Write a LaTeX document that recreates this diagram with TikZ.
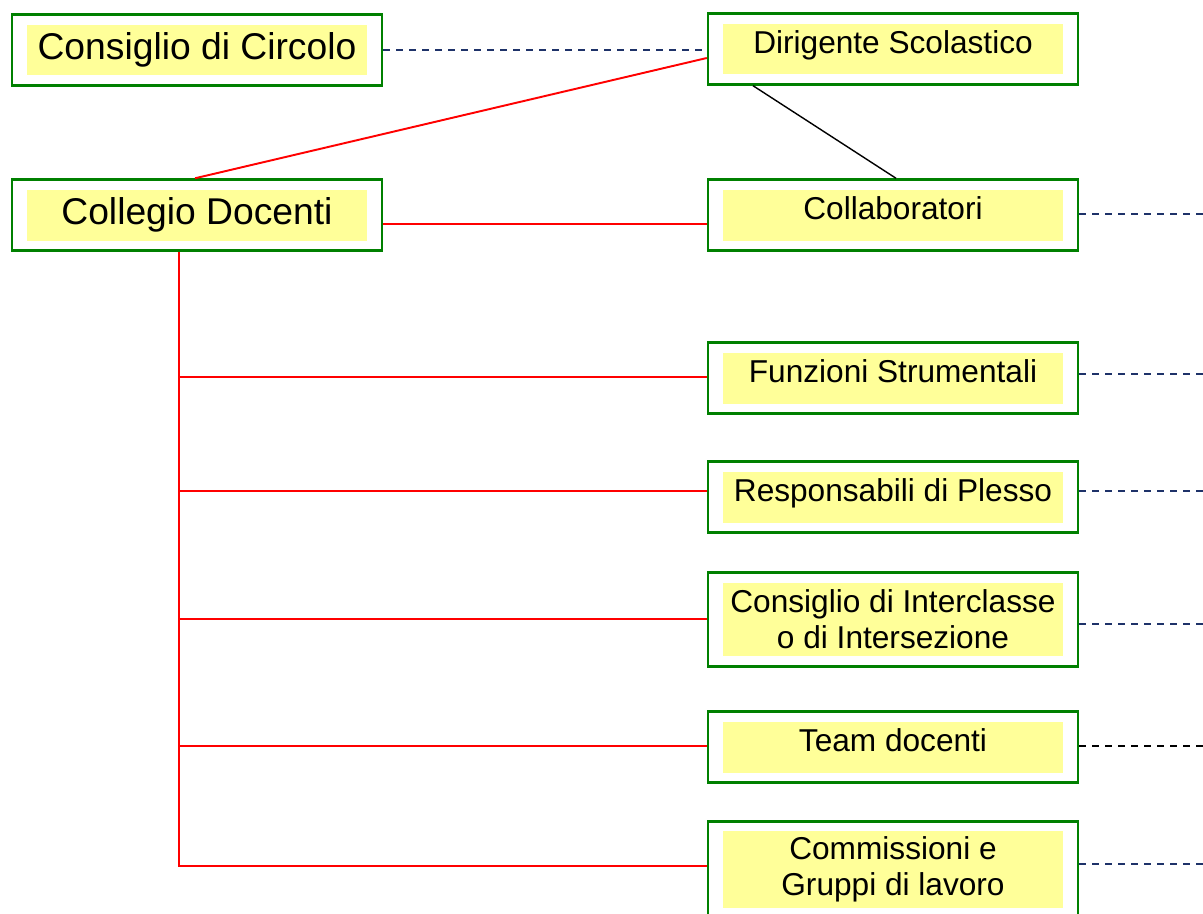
\documentclass[tikz,border=0pt]{standalone}
\usepackage{fontspec}
\setmainfont{Liberation Sans}
\usetikzlibrary{calc, positioning}

\definecolor{boxgreen}{RGB}{0,128,0}
\definecolor{paleyellow}{RGB}{255,255,153}
\definecolor{linkblue}{RGB}{30,50,105}

\tikzset{
	frame/.style={draw=boxgreen, line width=1.4pt, fill=white, minimum width=7.4cm, minimum height=1.42cm, inner sep=0pt},
	bigfill/.style={fill=paleyellow, minimum width=6.8cm, inner sep=0pt, text height=0.69cm, text depth=0.33cm, font=\fontsize{21.2}{24}\selectfont},
	smallfill/.style={fill=paleyellow, minimum width=6.8cm, inner sep=0pt, text height=0.6cm, text depth=0.42cm, font=\fontsize{18}{20.5}\selectfont},
	twofill/.style={fill=paleyellow, minimum width=6.8cm, inner sep=0pt, align=center, font=\fontsize{18}{20.5}\selectfont},
	redline/.style={red, line width=1.1pt},
	dashline/.style={linkblue, line width=1pt, dash pattern=on 4pt off 3.4pt}
}

\begin{document}
\begin{tikzpicture}[x=0.02cm, y=-0.02cm]
	\useasboundingbox (0,0) rectangle (1203,913);
	
	% left column
	\node[frame] (circolo) at (197,50) {};
	\node[bigfill] (circolo-t) at (circolo) {Consiglio di Circolo};
	\node[frame] (collegio) at (197,215) {};
	\node[bigfill] (collegio-t) at (collegio) {Collegio Docenti};
	
	% right column
	\node[frame] (dirigente) at (893,49) {};
	\node[smallfill] (dirigente-t) at (dirigente) {Dirigente Scolastico};
	\node[frame] (collab) at (893,215) {};
	\node[smallfill] (collab-t) at (collab) {Collaboratori};
	\node[frame] (funzioni) at (893,378) {};
	\node[smallfill] (funzioni-t) at (funzioni) {Funzioni Strumentali};
	\node[frame] (plesso) at (893,497) {};
	\node[smallfill] (plesso-t) at (plesso) {Responsabili di Plesso};
	\node[frame, minimum height=1.88cm] (interclasse) at (893,619.5) {};
	\node[twofill, minimum height=1.46cm] (interclasse-t) at (interclasse) {Consiglio di Interclasse\\o di Intersezione};
	\node[frame] (team) at (893,747) {};
	\node[smallfill] (team-t) at (team) {Team docenti};
	\node[frame, minimum height=1.92cm] (commissioni) at (893,869.5) {};
	\node[twofill, minimum height=1.54cm] (commissioni-t) at (commissioni) {Commissioni e\\Gruppi di lavoro};
	
	\coordinate (edge) at (1210,0);
	
	% links
	\draw[dashline] (circolo.east) -- (circolo.east -| dirigente.west);
	\draw[redline] ([yshift=-0.18cm]dirigente.west) -- ([xshift=-0.04cm]collegio.north);
	\draw[black, line width=0.8pt] ([xshift=-2.8cm]dirigente.south) -- ([xshift=0.06cm]collab.north);
	\draw[redline] ([yshift=-0.18cm]collegio.east) -- ([yshift=-0.18cm]collab.west);
	
	\coordinate (trunk) at ([xshift=-0.36cm]collegio.south);
	\coordinate (trunk-end) at ([yshift=0.07cm]commissioni.west);
	\draw[redline] (trunk) |- (trunk-end);
	\foreach \b/\dy in {funzioni/0.02, plesso/0.12, interclasse/0.01, team/0.02}
		\draw[redline] ([yshift=\dy cm]\b.west -| trunk) -- ([yshift=\dy cm]\b.west);
	
	\foreach \b/\dy/\c in {collab/0.02/linkblue, funzioni/0.08/linkblue, plesso/0.12/linkblue, interclasse/-0.09/linkblue, team/0.02/black, commissioni/0.11/linkblue}{
		\coordinate (\b-out) at ([yshift=\dy cm]\b.east);
		\draw[dashline, \c] (\b-out) -- (\b-out -| edge);
	}
\end{tikzpicture}
\end{document}
